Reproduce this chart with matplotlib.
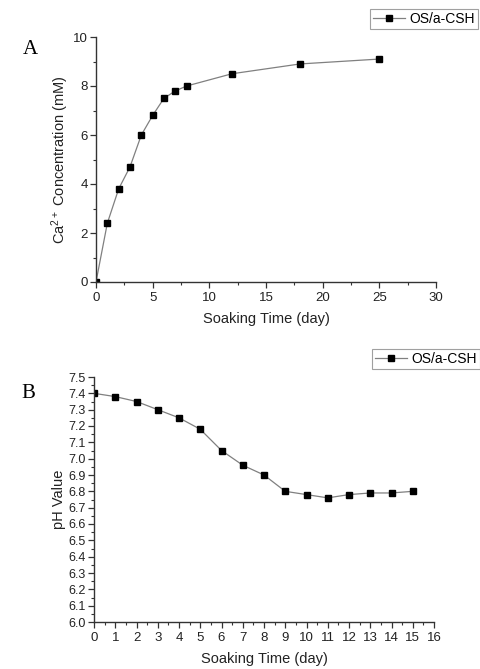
import matplotlib
matplotlib.use("Agg")
import matplotlib.pyplot as plt
from matplotlib.ticker import MultipleLocator, FormatStrFormatter

plt.rcParams['font.family'] = ['Liberation Sans', 'DejaVu Sans']
plt.rcParams['mathtext.fontset'] = 'custom'
plt.rcParams['mathtext.rm'] = 'Liberation Sans'
plt.rcParams['mathtext.it'] = 'Liberation Sans'

# Panel A data
ca_days = [0, 1, 2, 3, 4, 5, 6, 7, 8, 12, 18, 25]
ca_conc = [0, 2.4, 3.8, 4.7, 6.0, 6.8, 7.5, 7.8, 8.0, 8.5, 8.9, 9.1]

# Panel B data
ph_days = list(range(16))
ph_vals = [7.40, 7.38, 7.35, 7.30, 7.25, 7.18, 7.05, 6.96, 6.90, 6.80,
           6.78, 6.76, 6.78, 6.79, 6.79, 6.80]

series_label = "OS/a-CSH"

W, H = 481, 669
fig = plt.figure(figsize=(W / 100, H / 100), dpi=100)

def ax_rect(l, t, r, b):
    return [l / W, 1 - b / H, (r - l) / W, (b - t) / H]

TXT = '#222222'

def style(ax, ls):
    for s in ['top', 'right']:
        ax.spines[s].set_visible(False)
    for s in ['left', 'bottom']:
        ax.spines[s].set_linewidth(1.0)
        ax.spines[s].set_color('#333333')
    ax.tick_params(which='major', direction='out', length=4, width=0.9,
                   labelsize=ls, colors='#333333', labelcolor=TXT, pad=2)
    ax.tick_params(axis='x', which='major', pad=3)
    ax.tick_params(which='minor', direction='out', length=2.5, width=0.8,
                   colors='#333333')

line_kw = dict(color='#808080', lw=0.9, marker='s', markersize=5,
               markerfacecolor='black', markeredgecolor='black')

def add_legend(ax, x_right, y_top):
    leg = ax.legend(loc='upper right', bbox_to_anchor=(x_right / W, 1 - y_top / H),
                    bbox_transform=fig.transFigure, fontsize=10, frameon=True,
                    fancybox=False, edgecolor='#888888', handlelength=2.3,
                    borderpad=0.2, handletextpad=0.35, borderaxespad=0,
                    markerscale=0.8)
    leg.get_frame().set_linewidth(0.8)
    return leg

# Panel A
axA = fig.add_axes(ax_rect(96, 37, 436, 282))
axA.plot(ca_days, ca_conc, label=series_label, **line_kw)
axA.set_xlim(0, 30)
axA.set_ylim(0, 10)
axA.xaxis.set_major_locator(MultipleLocator(5))
axA.xaxis.set_minor_locator(MultipleLocator(2.5))
axA.yaxis.set_major_locator(MultipleLocator(2))
axA.yaxis.set_minor_locator(MultipleLocator(1))
style(axA, 9.5)
axA.set_xlabel("Soaking Time (day)", fontsize=10.5, color=TXT, labelpad=6)
axA.set_ylabel("Ca$^{\\mathregular{2+}}$ Concentration (mM)", fontsize=10.5,
               color=TXT, labelpad=1)
add_legend(axA, 478, 9)
fig.text(30 / W, 1 - 50 / H, "A", fontsize=15, family='Liberation Serif',
         ha='center', va='center')

# Panel B
axB = fig.add_axes(ax_rect(94, 377, 434, 622))
axB.plot(ph_days, ph_vals, label=series_label, **line_kw)
axB.set_xlim(0, 16)
axB.set_ylim(6.0, 7.5)
axB.xaxis.set_major_locator(MultipleLocator(1))
axB.xaxis.set_minor_locator(MultipleLocator(0.5))
axB.yaxis.set_major_locator(MultipleLocator(0.1))
axB.yaxis.set_minor_locator(MultipleLocator(0.05))
axB.yaxis.set_major_formatter(FormatStrFormatter('%.1f'))
style(axB, 9.5)
axB.tick_params(axis='y', which='major', labelsize=9)
axB.set_xlabel("Soaking Time (day)", fontsize=10.5, color=TXT, labelpad=6)
axB.set_ylabel("pH Value", fontsize=10.5, color=TXT, labelpad=2)
add_legend(axB, 480, 349)
fig.text(28 / W, 1 - 393 / H, "B", fontsize=15, family='Liberation Serif',
         ha='center', va='center')

fig.savefig("out.png", dpi=100)
